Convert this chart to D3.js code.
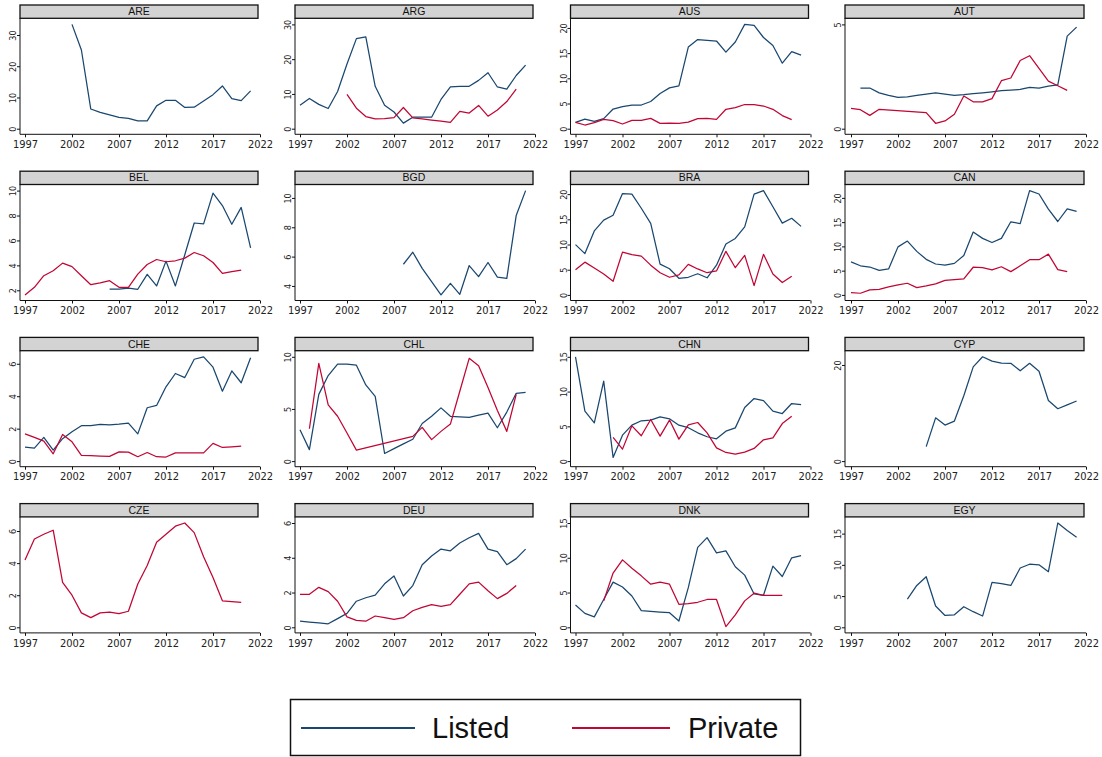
<!DOCTYPE html>
<html><head><meta charset="utf-8">
<script src="https://cdn.jsdelivr.net/npm/d3@7"></script>
<style>
body{margin:0;background:#fff;}
svg{display:block;font-family:"Liberation Sans",Arial,Helvetica,sans-serif;}
.tick text{font-family:"Liberation Sans Narrow","DejaVu Sans Condensed","Liberation Sans",sans-serif;}
</style></head><body>
<svg id="chart" width="1102" height="757"></svg>
<script>
// Annual shares by country, 1997-2021 (null = no observation)
const years = [1997,1998,1999,2000,2001,2002,2003,2004,2005,2006,2007,2008,2009,2010,2011,2012,2013,2014,2015,2016,2017,2018,2019,2020,2021];
const countries = ["ARE","ARG","AUS","AUT","BEL","BGD","BRA","CAN","CHE","CHL","CHN","CYP","CZE","DEU","DNK","EGY"];
const xTicks = [1997,2002,2007,2012,2017,2022];
const seriesNames = ["Listed","Private"];
const seriesColors = ["#1a476f","#c10534"];

const listedARE = [null,null,null,null,null,33.4,25.2,6.3,5.2,4.4,3.6,3.3,2.5,2.5,7.3,9.1,9.1,6.8,6.9,8.9,10.9,13.7,9.6,9.0,12.1];
const listedARG = [6.75,8.7,7.0,5.8,10.7,18.6,25.9,26.4,12.2,6.75,4.8,1.6,3.3,3.3,3.3,8.4,12.0,12.2,12.2,13.9,16.1,12.0,11.4,15.3,18.3];
const privateARG = [null,null,null,null,null,9.9,5.9,3.5,2.8,2.9,3.2,6.1,3.1,2.8,2.5,2.2,1.8,5.0,4.5,6.7,3.6,5.4,7.8,11.4,null];
const listedAUS = [1.26,1.9,1.45,2.0,3.9,4.4,4.7,4.7,5.4,7.0,8.1,8.5,16.2,17.7,17.55,17.4,15.2,17.2,20.7,20.5,18.1,16.5,13.0,15.3,14.6];
const privateAUS = [1.26,0.73,1.2,1.85,1.6,0.93,1.65,1.65,2.05,1.06,1.1,1.06,1.3,2.0,2.05,1.85,3.85,4.2,4.8,4.8,4.5,3.85,2.6,1.8,null];
const listedAUT = [null,1.95,1.95,1.72,1.6,1.5,1.53,1.6,1.66,1.72,1.66,1.6,1.63,1.68,1.72,1.77,1.82,1.85,1.88,1.98,1.95,2.04,2.1,4.44,4.87];
const privateAUT = [0.97,0.91,0.64,0.93,null,null,null,null,0.77,0.26,0.37,0.69,1.57,1.29,1.29,1.44,2.3,2.43,3.27,3.5,2.89,2.28,2.06,1.84,null];
const listedBEL = [null,null,null,null,null,null,null,null,null,2.1,2.1,2.18,2.08,3.28,2.35,4.34,2.35,4.85,7.4,7.33,9.8,8.8,7.3,8.65,5.4];
const privateBEL = [1.63,2.24,3.17,3.57,4.18,3.9,3.17,2.45,2.6,2.77,2.24,2.24,3.3,4.07,4.47,4.29,4.37,4.58,5.03,4.77,4.23,3.35,3.5,3.62,null];
const listedBGD = [null,null,null,null,null,null,null,null,null,null,null,5.48,6.3,5.2,4.3,3.39,4.18,3.43,5.39,4.64,5.6,4.6,4.52,8.8,10.5];
const listedBRA = [9.97,8.2,12.7,14.85,15.8,20.1,20.0,17.2,14.2,6.1,5.2,3.3,3.5,4.2,3.4,5.9,10.1,11.2,13.5,20.0,20.7,17.5,14.25,15.2,13.6];
const privateBRA = [5.0,6.5,5.35,4.15,2.7,8.5,8.0,7.7,5.9,4.4,3.5,3.96,6.07,5.15,4.4,4.75,8.65,5.4,7.85,1.85,8.05,4.15,2.45,3.7,null];
const listedCAN = [6.8,6.0,5.75,5.07,5.35,9.9,11.1,8.97,7.33,6.37,6.16,6.5,8.1,12.95,11.65,10.8,11.65,15.07,14.7,21.5,20.8,17.67,15.13,17.74,17.2];
const privateCAN = [0.48,0.34,1.03,1.16,1.64,2.05,2.4,1.5,1.85,2.26,3.0,3.15,3.3,5.7,5.6,5.14,5.8,4.8,6.0,7.26,7.26,8.4,5.2,4.8,null];
const listedCHE = [0.86,0.8,1.46,0.68,1.38,1.81,2.18,2.18,2.26,2.24,2.28,2.34,1.68,3.29,3.43,4.58,5.4,5.15,6.28,6.43,5.79,4.31,5.56,4.83,6.37];
const privateCHE = [1.68,1.46,1.23,0.45,1.64,1.19,0.35,0.33,0.31,0.29,0.57,0.55,0.27,0.53,0.27,0.25,0.51,0.51,0.51,0.51,1.09,0.84,0.88,0.92,null];
const listedCHL = [3.0,1.1,6.4,8.2,9.3,9.3,9.2,7.3,6.2,0.73,1.2,1.65,2.1,3.6,4.3,5.1,4.3,4.25,4.2,4.4,4.6,3.2,4.7,6.5,6.6];
const privateCHL = [null,3.1,9.37,5.4,4.3,2.7,1.05,null,null,null,null,null,2.37,3.23,2.06,2.85,3.55,6.7,9.85,9.15,7.05,4.85,2.85,6.4,null];
const listedCHN = [15.0,7.2,5.5,11.5,0.53,3.73,5.17,5.8,5.9,6.36,6.08,5.17,4.8,4.07,3.5,3.2,4.3,4.78,7.7,9.0,8.7,7.18,6.84,8.28,8.13];
const privateCHN = [null,null,null,null,3.4,1.72,5.07,3.64,5.98,3.59,5.9,3.16,5.2,5.55,4.07,1.91,1.24,1.0,1.29,1.82,3.06,3.35,5.4,6.46,null];
const listedCYP = [null,null,null,null,null,null,null,null,3.0,9.0,7.5,8.33,13.6,19.6,21.7,20.8,20.4,20.35,18.8,20.35,18.7,12.6,10.9,11.7,12.5];
const privateCZE = [4.2,5.5,5.8,6.05,2.8,2.0,0.9,0.6,0.9,0.95,0.85,1.0,2.7,3.85,5.3,5.8,6.3,6.5,5.9,4.4,3.1,1.65,1.6,1.55,null];
const listedDEU = [0.35,0.3,0.25,0.2,0.5,0.8,1.5,1.7,1.85,2.5,2.95,1.8,2.4,3.6,4.1,4.5,4.4,4.85,5.15,5.4,4.5,4.35,3.6,3.95,4.5];
const privateDEU = [1.9,1.9,2.3,2.05,1.5,0.6,0.4,0.35,0.65,0.55,0.45,0.55,0.95,1.15,1.3,1.2,1.3,1.9,2.5,2.6,2.1,1.65,1.95,2.4,null];
const listedDNK = [3.2,2.0,1.5,4.0,6.5,5.8,4.5,2.4,2.3,2.2,2.1,0.9,5.7,11.5,12.9,10.7,11.0,8.7,7.5,4.8,4.6,8.8,7.3,10.0,10.3];
const privateDNK = [null,null,null,3.8,7.8,9.7,8.5,7.4,6.2,6.5,6.2,3.3,3.4,3.6,4.0,4.0,0.1,1.8,3.8,4.9,4.6,4.6,4.6,null,null];
const listedEGY = [null,null,null,null,null,null,4.5,6.7,8.1,3.4,1.9,2.0,3.3,2.5,1.8,7.2,7.0,6.7,9.5,10.1,10.0,8.9,16.7,15.5,14.4];

const listedSeries = [listedARE,listedARG,listedAUS,listedAUT,listedBEL,listedBGD,listedBRA,listedCAN,listedCHE,listedCHL,listedCHN,listedCYP,null,listedDEU,listedDNK,listedEGY];
const privateSeries = [null,privateARG,privateAUS,privateAUT,privateBEL,null,privateBRA,privateCAN,privateCHE,privateCHL,privateCHN,null,privateCZE,privateDEU,privateDNK,null];
const yTicks = [[0,10,20,30],[0,10,20,30],[0,5,10,15,20],[0,5],[2,4,6,8,10],[4,6,8,10],[0,5,10,15,20],[0,5,10,15,20],
                [0,2,4,6],[0,5,10],[0,5,10,15],[0,20],[0,2,4,6],[0,2,4,6],[0,5,10,15],[0,5,10,15]];

// Panel grid geometry
const colStart = [25, 300, 575.5, 851];
const axisGap = [5, 5, 5, 6];
const plotW = 235;
const rowBottom = [128.7, 294.9, 461.1, 627.3];
const plotH = 104.3;

const svg = d3.select("#chart");
svg.append("rect").attr("width",1102).attr("height",757).attr("fill","#fff");

countries.forEach((code, i) => {
  const col = i % 4, row = Math.floor(i / 4);
  const x0 = colStart[col], bottom = rowBottom[row];
  const axX = x0 - axisGap[col];
  const axY = bottom + 5.6;
  const hdrTop = bottom - 123.7, hdrH = 13.3;

  const series = [listedSeries[i], privateSeries[i]];
  const vals = series.filter(Boolean).flat().filter(v => v != null);
  const yDom = d3.extent(vals.concat(yTicks[i]));

  const x = d3.scaleLinear().domain([1997, 2022]).range([x0, x0 + plotW]);
  const y = d3.scaleLinear().domain(yDom).range([bottom, bottom - plotH]);

  const g = svg.append("g").attr("class", "panel-" + code);

  // strip title
  g.append("rect").attr("x", axX).attr("y", hdrTop)
    .attr("width", x0 + 233 - axX).attr("height", hdrH)
    .attr("fill", "#d3d3d3").attr("stroke", "#111").attr("stroke-width", 1.3);
  g.append("text").attr("x", (axX + x0 + 233) / 2).attr("y", hdrTop + 10.2)
    .attr("text-anchor", "middle").attr("font-size", 10.5).attr("fill", "#111").text(code);

  // axis lines
  g.append("line").attr("x1", axX).attr("x2", axX).attr("y1", hdrTop + hdrH).attr("y2", axY)
    .attr("stroke", "#111").attr("stroke-width", 1);
  g.append("line").attr("x1", axX).attr("x2", x(2022)).attr("y1", axY).attr("y2", axY)
    .attr("stroke", "#111").attr("stroke-width", 1);

  // y axis ticks with vertical labels
  const ya = g.append("g").attr("transform", `translate(${axX},0)`)
    .call(d3.axisLeft(y).tickValues(yTicks[i]).tickSize(3).tickSizeOuter(0).tickFormat(d3.format("d")));
  ya.select(".domain").remove();
  ya.selectAll("line").attr("stroke", "#111");
  ya.selectAll("text").attr("x", null).attr("dy", null)
    .attr("transform", "translate(-4,0) rotate(-90)")
    .attr("text-anchor", "middle").attr("font-size", 9).attr("fill", "#222");

  // x axis ticks
  const xa = g.append("g").attr("transform", `translate(0,${axY})`)
    .call(d3.axisBottom(x).tickValues(xTicks).tickSize(3).tickPadding(3).tickSizeOuter(0).tickFormat(d3.format("d")));
  xa.select(".domain").remove();
  xa.selectAll("line").attr("stroke", "#111");
  xa.selectAll("text").attr("font-size", 11).attr("fill", "#222");

  // series lines (gaps are bridged)
  const line = d3.line().x(d => x(d.yr)).y(d => y(d.v));
  series.forEach((arr, s) => {
    if (!arr) return;
    const pts = years.map((yr, j) => ({ yr, v: arr[j] })).filter(d => d.v != null);
    g.append("path").datum(pts).attr("d", line)
      .attr("fill", "none").attr("stroke", seriesColors[s])
      .attr("stroke-width", 1.25).attr("stroke-linejoin", "round");
  });
});

// legend
const lg = svg.append("g").attr("class", "legend");
lg.append("rect").attr("x", 290.5).attr("y", 699.5).attr("width", 510).attr("height", 56)
  .attr("fill", "#fff").attr("stroke", "#111").attr("stroke-width", 1.5);
const legendItems = [{x1: 301, x2: 415, tx: 432}, {x1: 572, x2: 670, tx: 688}];
seriesNames.forEach((name, s) => {
  const it = legendItems[s];
  lg.append("line").attr("x1", it.x1).attr("x2", it.x2).attr("y1", 728).attr("y2", 728)
    .attr("stroke", seriesColors[s]).attr("stroke-width", 2);
  lg.append("text").attr("x", it.tx).attr("y", 738).attr("font-size", 29)
    .attr("fill", "#111").text(name);
});
</script>
</body></html>
